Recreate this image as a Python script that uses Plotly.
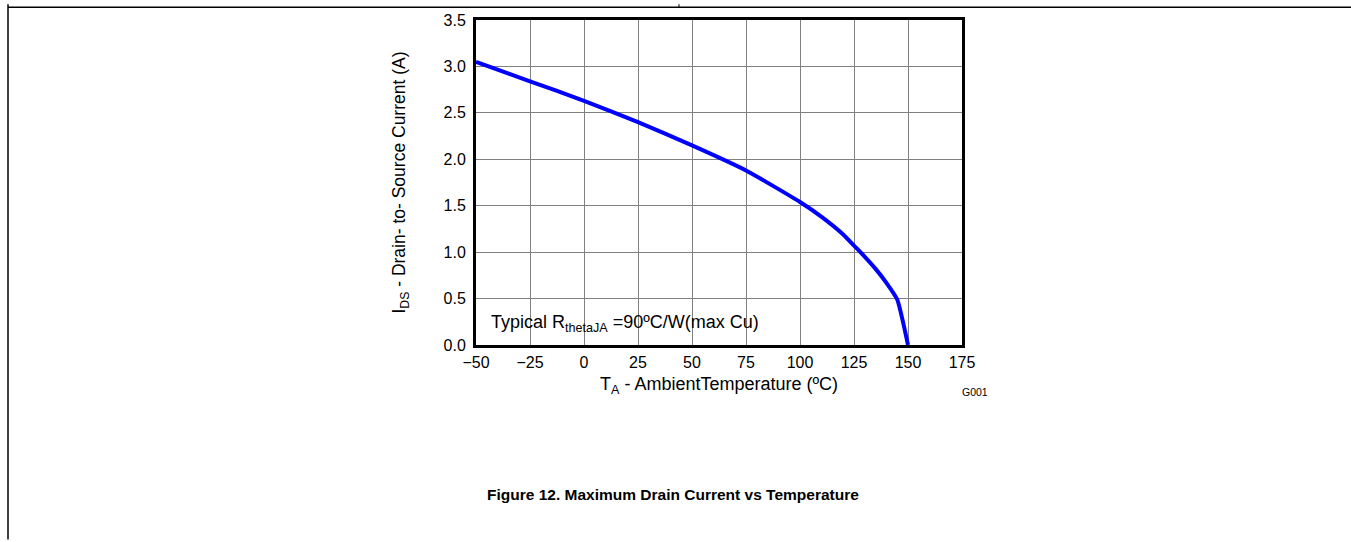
import plotly.graph_objects as go

# Data
temperature_c = [-50, -25, 0, 25, 50, 75, 100, 110, 120, 125, 130, 135, 140, 145, 150]
drain_current_a = [3.05, 2.84, 2.63, 2.40, 2.15, 1.88, 1.54, 1.38, 1.19, 1.07, 0.95, 0.82, 0.67, 0.49, 0.0]

x_ticks = [-50, -25, 0, 25, 50, 75, 100, 125, 150, 175]
x_tick_text = ["\u221250", "\u221225", "0", "25", "50", "75", "100", "125", "150", "175"]
y_ticks = [0.0, 0.5, 1.0, 1.5, 2.0, 2.5, 3.0, 3.5]
y_tick_text = ["0.0", "0.5", "1.0", "1.5", "2.0", "2.5", "3.0", "3.5"]

W, H = 1351, 542
L, R, T, B = 476, 1351 - 962, 16, 542 - 345
PW, PH = W - L - R, H - T - B


def px_x(px):
    return (px - L) / PW


def px_y(py):
    return (H - B - py) / PH


FONT = "Liberation Sans, Arial, sans-serif"

fig = go.Figure()
fig.add_trace(go.Scatter(
    x=temperature_c, y=drain_current_a, mode="lines",
    line=dict(color="#0000ff", width=4, shape="spline", smoothing=0.5),
    showlegend=False,
))

axis_common = dict(
    showgrid=True, gridcolor="#808080", gridwidth=1,
    showline=True, linecolor="black", linewidth=3, mirror=True,
    zeroline=False, ticks="",
    tickfont=dict(family=FONT, size=16, color="black"),
)

fig.update_xaxes(
    range=[-50, 175], tickvals=x_ticks, ticktext=x_tick_text,
    ticklabelstandoff=1,
    title=dict(text="T<sub>A</sub> - AmbientTemperature (ºC)",
               font=dict(family=FONT, size=18, color="black"), standoff=8),
    **axis_common,
)
fig.update_yaxes(
    range=[0, 3.5], tickvals=y_ticks, ticktext=y_tick_text,
    ticklabelstandoff=4,
    title=dict(text="I<sub>DS</sub> - Drain- to- Source Current (A)",
               font=dict(family=FONT, size=17.5, color="black"), standoff=34),
    **axis_common,
)

annotations = [
    dict(x=-44, y=0.235, xref="x", yref="y", xanchor="left", yanchor="middle",
         text="Typical R<sub>thetaJA</sub> =90ºC/W(max Cu)", showarrow=False,
         font=dict(family=FONT, size=18, color="black")),
    dict(x=px_x(975), y=px_y(393), xref="paper", yref="paper",
         xanchor="center", yanchor="middle", text="G001", showarrow=False,
         font=dict(family=FONT, size=10.5, color="black")),
    dict(x=px_x(673), y=px_y(496), xref="paper", yref="paper",
         xanchor="center", yanchor="middle",
         text="<b>Figure 12. Maximum Drain Current vs Temperature</b>",
         showarrow=False, font=dict(family=FONT, size=15.5, color="black")),
]

shapes = [
    dict(type="line", xref="paper", yref="paper",
         x0=px_x(8), x1=px_x(8), y0=px_y(0), y1=px_y(542),
         line=dict(color="black", width=1.5)),
    dict(type="line", xref="paper", yref="paper",
         x0=px_x(8), x1=px_x(1351), y0=px_y(3), y1=px_y(3),
         line=dict(color="black", width=1.5)),
    dict(type="line", xref="paper", yref="paper",
         x0=px_x(679), x1=px_x(679), y0=px_y(0), y1=px_y(3),
         line=dict(color="black", width=1)),
]

fig.update_layout(
    width=W, height=H, autosize=False,
    margin=dict(l=L, r=R, t=T, b=B, pad=0),
    paper_bgcolor="white", plot_bgcolor="white",
    font=dict(family=FONT, size=16, color="black"),
    annotations=annotations, shapes=shapes,
)

fig.write_html(
    "out.html",
    config={"displayModeBar": False},
    post_script="document.body.style.margin='0';document.body.style.overflow='hidden';",
)
